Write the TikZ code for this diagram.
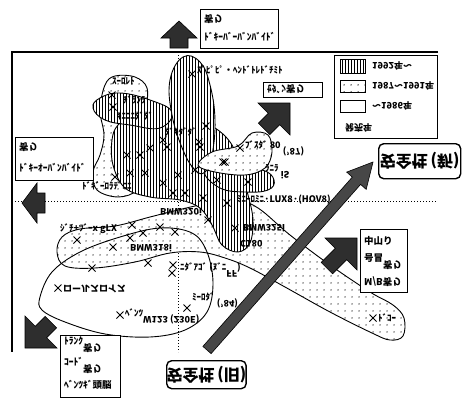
\documentclass[tikz,border=0pt]{standalone}
\usepackage{fontspec}
\setmainfont{Noto Sans CJK JP}
\usepackage{graphicx}
\usetikzlibrary{patterns.meta}
\newcommand{\fl}[1]{\scalebox{1}[-1]{#1}}
\tikzset{
  lab/.style={font=\fontsize{9}{9}\selectfont\bfseries, inner sep=0pt, anchor=west},
  blab/.style={font=\fontsize{9.5}{10}\selectfont\bfseries, inner sep=0pt, anchor=west},
  blob/.style={draw=black, line width=0.9pt},
  stripes/.style={blob, preaction={fill=white}, pattern={Lines[angle=90,distance=3pt,line width=0.8pt]}},
  dotty/.style={blob, preaction={fill=white}, pattern={Dots[distance=6.5pt,radius=0.75pt]}},
  axisdot/.style={dotted, line width=1pt},
  bigarrow/.style={fill=black!82, draw=black, line width=0.6pt},
  tbox/.style={draw=black, line width=0.9pt, fill=white},
  cross/.pic={\draw[line width=0.9pt] (-3.5,-3.5)--(3.5,3.5) (-3.5,3.5)--(3.5,-3.5);}
}
\begin{document}
\begin{tikzpicture}[x=1pt,y=-1pt]
\useasboundingbox (0,0) rectangle (474,410);
\fill[white] (0,0) rectangle (474,410);

% dotted axes
\coordinate (hl) at (12,201); \coordinate (hr) at (437,201);
\coordinate (vt) at (178,52); \coordinate (vb) at (178,352);
\draw[axisdot] (hl) -- (hr);
\draw[axisdot] (vt) -- (vb);

% BMW blob + band (dotted)
\draw[dotty] plot[smooth cycle, tension=0.6] coordinates {(57,252) (62,237) (80,229) (115,226) (150,217) (178,210) (205,204) (235,200) (258,208) (290,235) (330,265) (370,292) (393,305) (404,318) (403,336) (390,340) (372,333) (330,312) (285,287) (250,268) (225,258) (200,252) (170,253) (135,262) (95,268) (65,266)};

% left dotted blob
\draw[dotty] plot[smooth cycle, tension=0.6] coordinates {(105,85) (115,76) (135,77) (147,88) (145,110) (135,125) (128,140) (132,155) (140,170) (137,190) (118,197) (97,190) (93,172) (100,155) (104,135) (100,110)};

% stripe shapes
\draw[stripes] plot[smooth cycle, tension=0.6] coordinates {(118,125) (135,113) (165,112) (190,118) (215,128) (232,145) (240,170) (248,195) (253,220) (250,243) (238,252) (222,245) (212,225) (200,208) (180,200) (150,197) (125,188) (113,165) (112,140)};
\draw[stripes] plot[smooth cycle, tension=0.7] coordinates {(93,108) (100,98) (120,93) (150,100) (172,112) (160,128) (130,125) (105,120)};
\draw[stripes] plot[smooth cycle, tension=0.7] coordinates {(183,57) (200,62) (210,85) (215,120) (212,155) (205,172) (195,170) (183,150) (172,115) (170,80)};
\draw[stripes] plot[smooth cycle, tension=0.7] coordinates {(205,172) (230,168) (262,170) (274,180) (268,190) (245,192) (220,188)};

% right dotted lobe
\draw[dotty] plot[smooth cycle, tension=0.6] coordinates {(198,165) (212,152) (238,146) (252,133) (268,135) (272,152) (265,168) (245,175) (215,172)};

% white ellipse outline
\draw[blob] plot[smooth cycle, tension=0.6] coordinates {(40,297) (52,272) (80,252) (120,237) (160,228) (192,233) (207,252) (213,283) (207,312) (185,330) (150,337) (105,334) (65,322) (42,310)};

% crosses
\foreach \p in {(192,74),(206,126),(112,95),(113,107),(127,155),(140,155),(150,148),(163,140),(167,147),(130,173),(145,173),(178,175),(163,183),(199,142),(225,162),(115,177),(185,193),(173,193),(240,148),(223,162),(200,147),(195,170),(217,180),(248,182),(203,198),(227,203),(208,220),(132,225),(160,227),(130,238),(175,232),(113,247),(77,240),(143,233),(92,268),(148,263),(173,265),(172,273),(58,288),(120,315),(187,308),(373,318),(235,228)}
  \pic at \p {cross};

% labels
\node[lab] (l1) at (197,70) {ｽﾞﾋﾟﾋﾟ・ﾍﾝﾄﾞﾄﾚﾄﾞﾁﾐﾄ};
\node[lab] (l3) at (112,81) {ｽｰﾛﾚﾄ};
\node[lab] (l4a) at (123,100) {ﾁﾞﾗﾝﾗ};
\node[lab] (l4b) at (117,116) {ｷﾆﾆﾆﾀﾞﾀﾞ};
\node[lab] (l5) at (165,132) {ﾀﾞｷﾀﾞﾀﾞ};
\node[lab] (l6) at (245,148) {ﾌﾞｽﾀﾞ 80 \fl{('87)}};
\node[lab] (l7) at (265,172) {ﾗﾆﾗ \fl{iS}};
\node[lab] (l8) at (237,200) {ﾐﾆｰﾛﾐﾆ·LUX8·(HOV8)};
\node[lab] (l9) at (82,186) {ﾄﾞｷﾞｰﾛﾗﾃﾞﾆﾆ};
\node[lab] (l10) at (60,229) {ｼﾞﾁ+ﾂﾞｰx gLX};
\node[lab,anchor=center] (b320) at (181,212) {\fl{BMW320i}};
\node[lab,anchor=center] (b318) at (151,248) {\fl{BMW318i}};
\node[lab] (b325) at (243,228) {\fl{BMW325i}};
\node[lab] (c180) at (240,244) {\fl{C180}};
\node[lab] (rr) at (63,289) {\fl{ロールスロイス}};
\node[lab] (w123) at (125,316) {ﾍﾞﾝﾂ\fl{W123 (230E)}};
\node[lab] (l84) at (192,300) {ﾐｰﾛﾀﾞ \fl{('84)}};
\node[lab] (l85) at (180,270) {ﾆﾀﾞｱｺﾞ (ﾇﾞﾆ\fl{FF})};
\node[lab] (l11) at (378,318) {ﾄﾞｺｰ};

% frame
\coordinate (f1) at (438,52); \coordinate (f2) at (12,52); \coordinate (f3) at (12,352);
\draw[line width=1.5pt] (f1) -- (f2) -- (f3);

% block arrows
\draw[bigarrow] (170,48)--(188,48)--(188,38)--(197,38)--(179,21)--(161,38)--(170,38)--cycle;
\draw[bigarrow] (45,193)--(37,193)--(37,183)--(22,203)--(37,223)--(37,213)--(45,213)--cycle;
\draw[bigarrow] (25,348)--(25,316)--(35.3,326.3)--(45.2,316.4)--(56.6,327.8)--(46.7,337.7)--(57,348)--cycle;
\draw[bigarrow] (290,103)--(258,103)--(268.3,113.3)--(258.4,123.2)--(269.8,134.6)--(279.7,124.7)--(290,135)--cycle;
\draw[bigarrow] (357,238)--(325,238)--(335.3,248.3)--(321.2,262.4)--(332.6,273.8)--(346.7,259.7)--(357,270)--cycle;

% main diagonal arrow
\draw[fill=black!72, draw=black, line width=0.6pt] (202.9,346.4)--(352.3,177.1)--(346.7,172.1)--(373,162)--(366.2,189.4)--(360.6,184.4)--(211.1,353.6)--cycle;

% text boxes
\node[tbox, minimum width=78pt, minimum height=39pt, anchor=north west, inner sep=0pt] (tb) at (200,9) {};
\node[blab] (tb1) at (204,19) {\fl{寄り}};
\node[blab] (tb2) at (204,37) {ﾄﾞｷｰﾊﾞｰﾊﾞﾝﾊﾞｲﾄﾞ};
\node[tbox, minimum width=78pt, minimum height=43pt, anchor=north west, inner sep=0pt] (lb) at (15,137) {};
\node[blab] (lb1) at (19,147) {\fl{寄り}};
\node[blab] (lb2) at (19,168) {ﾄﾞｷｰｵｰﾊﾞﾝﾊﾞｲﾄﾞ};
\node[tbox, minimum width=59pt, minimum height=15pt, anchor=north west, inner sep=0pt] (sb) at (263,82) {};
\node[blab] (sb1) at (267,89.5) {\fl{ｾﾀﾞﾝ寄り}};
\node[tbox, minimum width=60pt, minimum height=62pt, anchor=north west, inner sep=0pt] (blb) at (60,335) {};
\node[blab] (blb1) at (64,345) {ﾄﾗﾝｸ\fl{寄り}};
\node[blab] (blb2) at (64,365) {ｺｰﾄﾞ\fl{寄り}};
\node[blab] (blb3) at (64,385) {ﾍﾞﾝﾂｷﾞ頭脳};
\node[tbox, minimum width=47pt, minimum height=63pt, anchor=north west, inner sep=0pt] (rb) at (360,229) {};
\node[blab] (rb1) at (364,241) {中山り};
\node[blab] (rb2) at (364,262) {号冒\fl{寄り}};
\node[blab] (rb3) at (364,282) {\fl{M/B寄り}};

% new / old boxes
\node[draw=black, line width=1.4pt, rounded corners=5pt, fill=white, minimum width=82pt, minimum height=35pt, anchor=north west, inner sep=0pt, font=\fontsize{16}{16}\selectfont\bfseries] (newb) at (378,143) {\fl{安全性\,(新)}};
\node[draw=black, line width=1.4pt, rounded corners=5pt, fill=white, minimum width=79pt, minimum height=28pt, anchor=north west, inner sep=0pt, font=\fontsize{16}{16}\selectfont\bfseries] (oldb) at (166,360) {\fl{安全性\,(旧)}};

% legend
\node[tbox, minimum width=103pt, minimum height=83pt, anchor=north west, inner sep=0pt] (leg) at (334,55) {};
\draw[stripes] (340,59) rectangle (365,73);
\draw[dotty] (340,80) rectangle (365,92);
\draw[blob] (340,100) rectangle (365,112);
\node[lab] (lg1) at (372,66) {\fl{1992年～}};
\node[lab] (lg2) at (372,86) {\fl{1987～1991年}};
\node[lab] (lg3) at (372,106) {\fl{～1986年}};
\node[lab] (lg4) at (345,128) {\fl{発売年}};
\end{tikzpicture}
\end{document}
